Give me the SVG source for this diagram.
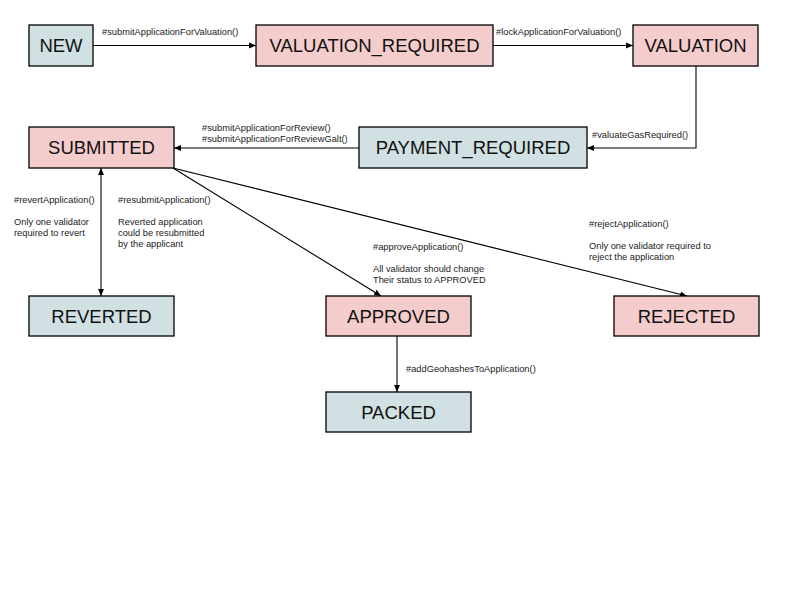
<svg xmlns="http://www.w3.org/2000/svg" width="800" height="600" viewBox="0 0 800 600">
<defs>
<marker id="ah" markerWidth="8" markerHeight="8" refX="7" refY="4" orient="auto" markerUnits="userSpaceOnUse">
<path d="M0,1 L7,4 L0,7 z" fill="#000"/>
</marker>
<marker id="as" markerWidth="8" markerHeight="8" refX="1" refY="4" orient="auto" markerUnits="userSpaceOnUse">
<path d="M8,1 L1,4 L8,7 z" fill="#000"/>
</marker>
<style>
.pink{fill:#f4cccc;stroke:#000;stroke-width:1.3}
.blue{fill:#d0e0e3;stroke:#000;stroke-width:1.3}
.nt{font-family:"Liberation Sans",Arial,sans-serif;font-size:18.5px;fill:#111;text-anchor:middle}
.lb{font-family:"Liberation Sans",Arial,sans-serif;font-size:9.3px;fill:#222}
.cn{fill:none;stroke:#000;stroke-width:1.1}
</style>
</defs>
<rect width="800" height="600" fill="#fff"/>
<g id="connectors">
<path class="cn" d="M93,45.5 H256" marker-end="url(#ah)"/>
<path class="cn" d="M493,45.5 H633" marker-end="url(#ah)"/>
<path class="cn" d="M696,66 V148 H587" marker-end="url(#ah)"/>
<path class="cn" d="M359,148 H174" marker-end="url(#ah)"/>
<path class="cn" d="M101,168 V296" marker-start="url(#as)" marker-end="url(#ah)"/>
<path class="cn" d="M173,168 L381,296" marker-end="url(#ah)"/>
<path class="cn" d="M173,168 L687,296" marker-end="url(#ah)"/>
<path class="cn" d="M397,336 V392" marker-end="url(#ah)"/>
</g>
<g id="labels">
<text class="lb" x="102" y="35">#submitApplicationForValuation()</text>
<text class="lb" x="496" y="35">#lockApplicationForValuation()</text>
<text class="lb" x="592" y="138">#valuateGasRequired()</text>
<text class="lb" x="202" y="131">#submitApplicationForReview()</text>
<text class="lb" x="202" y="142">#submitApplicationForReviewGalt()</text>
<text class="lb" x="14" y="203">#revertApplication()</text>
<text class="lb" x="14" y="225">Only one validator</text>
<text class="lb" x="14" y="236">required to revert</text>
<text class="lb" x="118" y="203">#resubmitApplication()</text>
<text class="lb" x="118" y="225">Reverted application</text>
<text class="lb" x="118" y="236">could be resubmitted</text>
<text class="lb" x="118" y="247">by the applicant</text>
<text class="lb" x="373" y="250">#approveApplication()</text>
<text class="lb" x="373" y="272">All validator should change</text>
<text class="lb" x="373" y="283">Their status to APPROVED</text>
<text class="lb" x="589" y="227">#rejectApplication()</text>
<text class="lb" x="589" y="249">Only one validator required to</text>
<text class="lb" x="589" y="260">reject the application</text>
<text class="lb" x="406" y="372">#addGeohashesToApplication()</text>
</g>
<g id="new"><rect class="blue" x="29" y="25" width="64" height="41"/><text class="nt" x="61" y="52.2">NEW</text></g>
<g id="valuation_required"><rect class="pink" x="256" y="25" width="237" height="41"/><text class="nt" x="374.5" y="52.2">VALUATION_REQUIRED</text></g>
<g id="valuation"><rect class="pink" x="633" y="25" width="125" height="41"/><text class="nt" x="695.5" y="52.2">VALUATION</text></g>
<g id="submitted"><rect class="pink" x="29" y="127" width="145" height="41"/><text class="nt" x="101.5" y="154.2">SUBMITTED</text></g>
<g id="payment_required"><rect class="blue" x="359" y="127" width="228" height="41"/><text class="nt" x="473" y="154.2">PAYMENT_REQUIRED</text></g>
<g id="reverted"><rect class="blue" x="29" y="296" width="145" height="40"/><text class="nt" x="101.5" y="322.7">REVERTED</text></g>
<g id="approved"><rect class="pink" x="326" y="296" width="145" height="40"/><text class="nt" x="398.5" y="322.7">APPROVED</text></g>
<g id="rejected"><rect class="pink" x="614" y="296" width="145" height="40"/><text class="nt" x="686.5" y="322.7">REJECTED</text></g>
<g id="packed"><rect class="blue" x="326" y="392" width="145" height="40"/><text class="nt" x="398.5" y="418.7">PACKED</text></g>
</svg>
